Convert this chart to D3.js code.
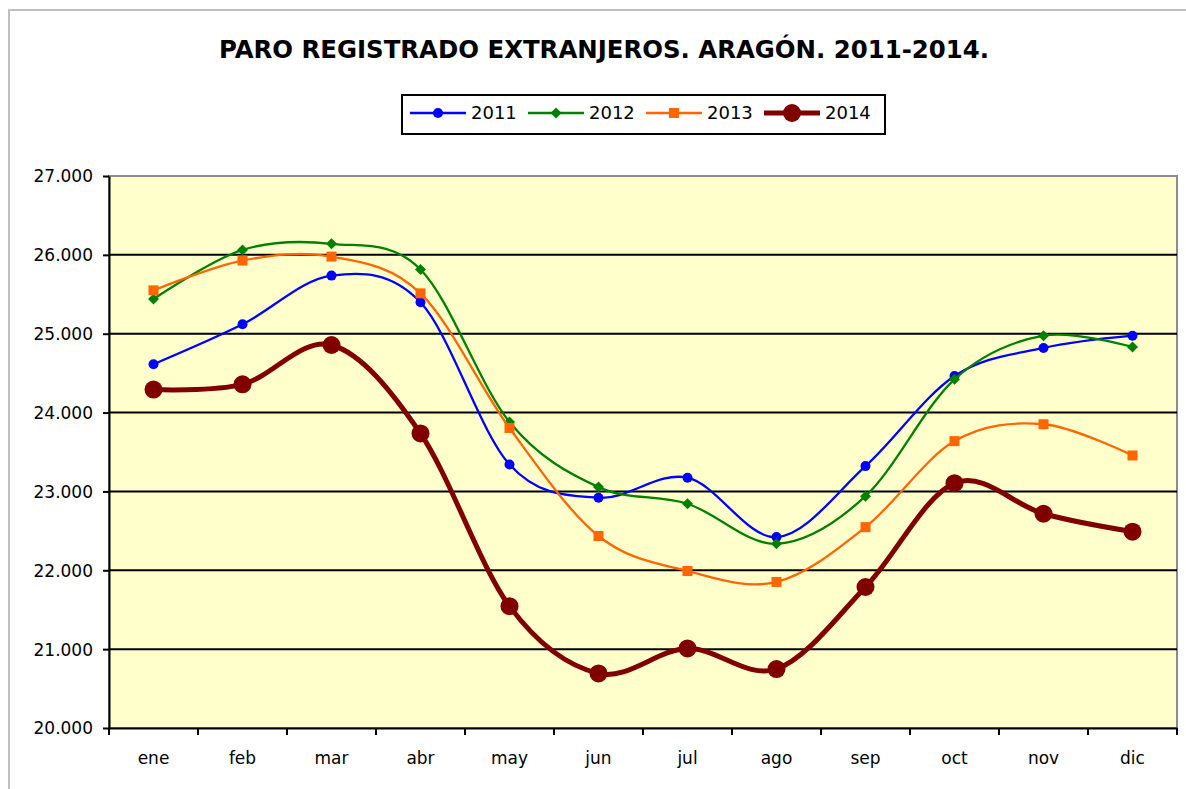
<!DOCTYPE html>
<html>
<head>
<meta charset="utf-8">
<script src="https://cdn.jsdelivr.net/npm/d3@7"></script>
<style>
  body { margin: 0; background: #fff; }
  svg text { font-family: "DejaVu Sans", sans-serif; fill: #000; }
</style>
</head>
<body>
<svg id="chart" width="1186" height="789"></svg>
<script>
const months = ['ene', 'feb', 'mar', 'abr', 'may', 'jun', 'jul', 'ago', 'sep', 'oct', 'nov', 'dic'];
const yTicks = [20000, 21000, 22000, 23000, 24000, 25000, 26000, 27000];

const values2011 = [24613, 25119, 25737, 25398, 23342, 22920, 23174, 22421, 23321, 24464, 24819, 24975];
const values2012 = [25440, 26063, 26140, 25815, 23881, 23055, 22844, 22336, 22940, 24422, 24975, 24832];
const values2013 = [25550, 25928, 25978, 25512, 23805, 22435, 21991, 21852, 22547, 23638, 23852, 23456];
const values2014 = [24292, 24358, 24857, 23735, 21545, 20692, 21009, 20748, 21788, 23105, 22717, 22490];

const series = [
    { name: '2011', values: values2011, color: '#0000ff', width: 2.3, marker: 'circle', size: 5 },
    { name: '2012', values: values2012, color: '#008000', width: 2.3, marker: 'diamond', size: 5.5 },
    { name: '2013', values: values2013, color: '#ff6600', width: 2.3, marker: 'square', size: 5 },
    { name: '2014', values: values2014, color: '#800000', width: 5, marker: 'circle', size: 9 },
];

const plot = { left: 109, top: 176, right: 1177, bottom: 728 };

const svg = d3.select('#chart');

// outer chart frame
svg.append('rect')
    .attr('x', 9).attr('y', 10)
    .attr('width', 1200).attr('height', 800)
    .attr('fill', '#fff')
    .attr('stroke', '#c0c0c0')
    .attr('stroke-width', 2);

svg.append('text')
    .attr('x', 604).attr('y', 58)
    .attr('text-anchor', 'middle')
    .attr('font-size', 24)
    .attr('font-weight', 'bold')
    .attr('textLength', 770)
    .attr('lengthAdjust', 'spacingAndGlyphs')
    .text('PARO REGISTRADO EXTRANJEROS. ARAGÓN. 2011-2014.');

const x = d3.scaleBand()
    .domain(months)
    .range([plot.left, plot.right]);

const y = d3.scaleLinear()
    .domain([20000, 27000])
    .range([plot.bottom, plot.top]);

// plot background
svg.append('rect')
    .attr('x', plot.left).attr('y', plot.top)
    .attr('width', plot.right - plot.left)
    .attr('height', plot.bottom - plot.top)
    .attr('fill', '#ffffcc')
    .attr('stroke', '#8c8c8c')
    .attr('stroke-width', 2);

// grid lines
svg.append('g')
    .selectAll('line')
    .data(yTicks.slice(1, -1))
    .enter().append('line')
    .attr('x1', plot.left).attr('x2', plot.right)
    .attr('y1', d => y(d)).attr('y2', d => y(d))
    .attr('stroke', '#000')
    .attr('stroke-width', 2);

const fmt = d => d3.format(',')(d).replace(/,/g, '.');

const yAxis = svg.append('g')
    .attr('transform', `translate(${plot.left},0)`)
    .call(d3.axisLeft(y).tickValues(yTicks).tickFormat(fmt).tickSizeInner(6).tickSizeOuter(0).tickPadding(10));
yAxis.select('.domain').attr('stroke-width', 2);
yAxis.selectAll('.tick line').attr('stroke-width', 2);
yAxis.selectAll('.tick text').attr('font-size', 17).attr('font-family', '"DejaVu Sans", sans-serif').attr('dy', '0.35em');

const xAxis = svg.append('g')
    .attr('transform', `translate(0,${plot.bottom})`)
    .call(d3.axisBottom(x).tickSize(0).tickPadding(24));
xAxis.select('.domain').attr('stroke-width', 2);
xAxis.selectAll('.tick text').attr('font-size', 17).attr('font-family', '"DejaVu Sans", sans-serif');

// category separators on the x axis
xAxis.append('g')
    .selectAll('line')
    .data(months.map(m => x(m)).concat([plot.right]))
    .enter().append('line')
    .attr('x1', d => d).attr('x2', d => d)
    .attr('y1', 0).attr('y2', 7)
    .attr('stroke', '#000')
    .attr('stroke-width', 2);

function drawMarker(sel, s) {
    if (s.marker === 'circle') {
        sel.append('circle').attr('r', s.size).attr('fill', s.color);
    } else if (s.marker === 'diamond') {
        sel.append('path')
            .attr('d', `M0,${-s.size}L${s.size},0L0,${s.size}L${-s.size},0Z`)
            .attr('fill', s.color);
    } else {
        sel.append('rect')
            .attr('x', -s.size).attr('y', -s.size)
            .attr('width', s.size * 2).attr('height', s.size * 2)
            .attr('fill', s.color);
    }
}

const line = d3.line()
    .x((d, i) => x(months[i]) + x.bandwidth() / 2)
    .y(d => y(d))
    .curve(d3.curveCardinal.tension(0));

const graph = svg.append('g').attr('class', 'graph-lines');

series.forEach(s => {
    const g = graph.append('g');
    g.append('path')
        .attr('d', line(s.values))
        .attr('fill', 'none')
        .attr('stroke', s.color)
        .attr('stroke-width', s.width)
        .attr('stroke-linejoin', 'round');
    g.selectAll('.marker')
        .data(s.values)
        .enter().append('g')
        .attr('class', 'marker')
        .attr('transform', (d, i) => `translate(${x(months[i]) + x.bandwidth() / 2},${y(d)})`)
        .each(function () { drawMarker(d3.select(this), s); });
});

// legend
const legend = svg.append('g').attr('class', 'legend');
legend.append('rect')
    .attr('x', 402).attr('y', 95)
    .attr('width', 483).attr('height', 39)
    .attr('fill', '#fff')
    .attr('stroke', '#000')
    .attr('stroke-width', 2);

const legendX = [410, 528, 646, 764];
series.forEach((s, i) => {
    const item = legend.append('g').attr('transform', `translate(${legendX[i]},113)`);
    item.append('line')
        .attr('x1', 0).attr('x2', 56)
        .attr('stroke', s.color)
        .attr('stroke-width', s.width);
    const m = item.append('g').attr('transform', 'translate(28,0)');
    drawMarker(m, s);
    item.append('text')
        .attr('x', 61).attr('y', 6)
        .attr('font-size', 18)
        .text(s.name);
});
</script>
</body>
</html>
